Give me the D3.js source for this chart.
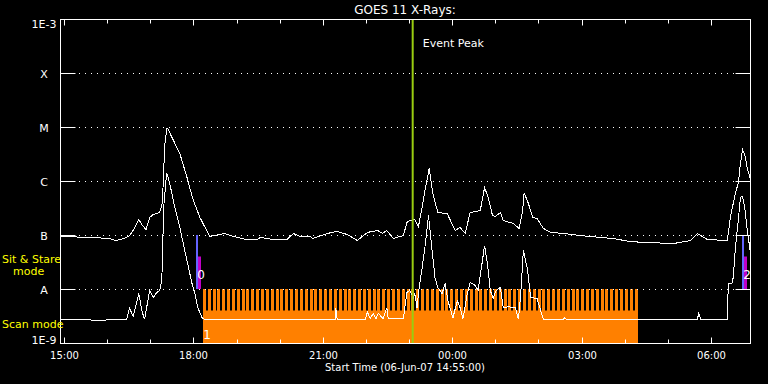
<!DOCTYPE html>
<html>
<head>
<meta charset="utf-8">
<script src="https://cdn.jsdelivr.net/npm/d3@7"></script>
<style>
  body { margin: 0; background: #000; }
  svg { display: block; }
  text { font-family: "DejaVu Sans", sans-serif; }
</style>
</head>
<body>
<div id="chart"></div>
<script>
// GOES 11 long channel (1-8 A), W/m^2
const longChannel = [
    ["14:55", 9.6e-8], ["15:36", 9.2e-8], ["16:04", 8.8e-8], ["16:11", 8.1e-8], ["16:18", 8.4e-8],
    ["16:27", 9.2e-8], ["16:31", 1.0e-7], ["16:36", 1.24e-7], ["16:44", 1.98e-7], ["16:48", 1.6e-7],
    ["16:54", 1.29e-7], ["16:59", 2.15e-7], ["17:04", 2.45e-7], ["17:13", 2.67e-7], ["17:16", 3.6e-7],
    ["17:17", 4.8e-7], ["17:20", 4.6e-6], ["17:23", 9.6e-6], ["17:24", 9.6e-6], ["17:31", 6.2e-6],
    ["17:41", 3.3e-6], ["17:51", 1.19e-6], ["17:59", 4.8e-7], ["18:09", 2.15e-7], ["18:19", 1.19e-7],
    ["18:23", 9.6e-8], ["18:44", 1.09e-7], ["18:51", 1.0e-7], ["19:14", 8.4e-8], ["19:28", 8.4e-8],
    ["19:33", 9.2e-8], ["19:51", 8.4e-8], ["20:10", 8.4e-8], ["20:19", 1.09e-7], ["20:28", 9.6e-8],
    ["20:42", 9.6e-8], ["20:46", 8.8e-8], ["21:06", 1.09e-7], ["21:20", 1.19e-7], ["21:34", 1.04e-7],
    ["21:48", 8.1e-8], ["22:02", 1.14e-7], ["22:16", 1.24e-7], ["22:23", 1.09e-7], ["22:29", 1.24e-7],
    ["22:38", 8.8e-8], ["22:52", 1.0e-7], ["22:57", 1.74e-7], ["23:01", 1.9e-7], ["23:08", 1.98e-7],
    ["23:13", 1.47e-7], ["23:18", 3.2e-7], ["23:22", 6.8e-7], ["23:28", 1.74e-6], ["23:33", 6.0e-7],
    ["23:40", 2.67e-7], ["23:53", 2.55e-7], ["00:04", 1.24e-7], ["00:11", 1.41e-7], ["00:18", 1.09e-7],
    ["00:25", 2.67e-7], ["00:39", 2.9e-7], ["00:45", 7.7e-7], ["00:50", 5.1e-7], ["00:56", 2.35e-7],
    ["01:00", 2.25e-7], ["01:07", 2.67e-7], ["01:11", 1.9e-7], ["01:25", 1.67e-7], ["01:33", 1.35e-7],
    ["01:38", 2.9e-7], ["01:40", 6.2e-7], ["01:46", 3.9e-7], ["01:52", 2.15e-7], ["01:58", 2.06e-7],
    ["02:07", 1.35e-7], ["02:17", 1.14e-7], ["02:35", 1.09e-7], ["02:58", 1.0e-7], ["03:26", 9.2e-8],
    ["03:44", 8.8e-8], ["04:08", 7.7e-8], ["04:32", 7.4e-8], ["05:08", 7.1e-8], ["05:32", 8.1e-8],
    ["05:41", 1.09e-7], ["05:55", 8.4e-8], ["06:23", 8.1e-8], ["06:24", 1.09e-7], ["06:27", 2.15e-7],
    ["06:34", 6.2e-7], ["06:38", 9.2e-7], ["06:41", 2.15e-6], ["06:44", 3.9e-6], ["06:48", 2.8e-6],
    ["06:51", 1.6e-6], ["06:54", 1.29e-6], ["06:55", 9.2e-7]
];

// GOES 11 short channel (0.5-4 A)
const shortChannel = [
    ["14:55", 2.8e-9], ["15:50", 2.7e-9], ["16:27", 2.8e-9], ["16:31", 4.5e-9], ["16:36", 3.2e-9],
    ["16:44", 8.4e-9], ["16:48", 4.1e-9], ["16:52", 2.8e-9], ["16:59", 9.6e-9], ["17:04", 7.1e-9],
    ["17:09", 8.8e-9], ["17:13", 9.6e-9], ["17:16", 1.47e-8], ["17:17", 6.0e-8], ["17:19", 3.9e-7],
    ["17:22", 1.14e-6], ["17:23", 1.41e-6], ["17:27", 9.2e-7], ["17:34", 3.3e-7], ["17:41", 1.41e-7],
    ["17:51", 3.4e-8], ["17:58", 1.29e-8], ["18:02", 8.4e-9], ["18:06", 4.6e-9], ["18:12", 3.0e-9],
    ["18:16", 2.8e-9], ["21:17", 2.8e-9], ["21:18", 4.5e-9], ["21:20", 2.8e-9], ["21:59", 2.8e-9],
    ["22:02", 3.8e-9], ["22:06", 2.9e-9], ["22:10", 3.6e-9], ["22:14", 2.9e-9], ["22:17", 3.6e-9],
    ["22:24", 2.9e-9], ["22:29", 4.6e-9], ["22:31", 2.9e-9], ["22:52", 2.9e-9], ["22:57", 8.8e-9],
    ["23:01", 9.6e-9], ["23:06", 7.1e-9], ["23:08", 8.4e-9], ["23:11", 4.6e-9], ["23:14", 1.09e-8],
    ["23:18", 2.45e-8], ["23:22", 6.0e-8], ["23:27", 2.35e-7], ["23:32", 5.3e-8], ["23:36", 1.67e-8],
    ["23:40", 1.09e-8], ["23:46", 8.4e-9], ["23:50", 1.29e-8], ["23:54", 6.2e-9], ["00:01", 3.0e-9],
    ["00:07", 6.2e-9], ["00:11", 4.6e-9], ["00:15", 2.9e-9], ["00:21", 8.4e-9], ["00:25", 1.35e-8],
    ["00:32", 1.19e-8], ["00:36", 9.6e-9], ["00:42", 3.4e-8], ["00:45", 6.5e-8], ["00:49", 3.0e-8],
    ["00:53", 9.6e-9], ["00:57", 6.8e-9], ["01:01", 9.6e-9], ["01:07", 1.09e-8], ["01:11", 4.6e-9],
    ["01:18", 4.8e-9], ["01:28", 4.6e-9], ["01:32", 2.8e-9], ["01:35", 7.1e-9], ["01:39", 5.3e-8],
    ["01:45", 2.25e-8], ["01:49", 7.1e-9], ["01:58", 6.8e-9], ["02:03", 4.1e-9], ["02:07", 2.8e-9],
    ["02:35", 2.8e-9], ["02:36", 3.0e-9], ["02:39", 2.8e-9], ["05:41", 2.8e-9], ["05:43", 3.6e-9],
    ["05:46", 2.8e-9], ["06:23", 2.8e-9], ["06:24", 1.29e-8], ["06:29", 1.29e-8], ["06:31", 1.67e-8],
    ["06:34", 6.0e-8], ["06:38", 1.9e-7], ["06:41", 5.1e-7], ["06:44", 5.3e-7], ["06:47", 3.3e-7],
    ["06:50", 1.41e-7], ["06:52", 9.2e-8], ["06:55", 4.6e-8]
];

// flare class levels on the y axis
const levelValues = [1e-9, 1e-8, 1e-7, 1e-6, 1e-5, 1e-4, 1e-3];
const levelLabels = ["1E-9", "A", "B", "C", "M", "X", "1E-3"];

// observing modes
const sitStareTimes = ["18:05", "06:44"];
const sitStareLabels = ["0", "2"];
const scanStart = "18:13";
const scanEnd = "04:19";
const scanLabel = "1";
const rasterMinutes = 6.75;

const eventPeak = "23:05";
const startTime = "14:55";
const endTime = "06:55";

// times are on 06-Jun-07, anything before noon rolls over to 07-Jun
const day0 = Date.UTC(2007, 5, 6);
function toTime(s) {
    const [h, m] = s.split(":").map(Number);
    return new Date(day0 + ((h < 12 ? h + 24 : h) * 60 + m) * 60000);
}

const width = 768, height = 384;
const plot = { left: 60.5, right: 750.5, top: 19.5, bottom: 343.5 };

const svg = d3.select("#chart").append("svg")
    .attr("width", width)
    .attr("height", height);

svg.append("rect").attr("width", width).attr("height", height).attr("fill", "#000");

const x = d3.scaleUtc()
    .domain([toTime(startTime), toTime(endTime)])
    .range([plot.left, plot.right]);

const y = d3.scaleLog()
    .domain([1e-9, 1e-3])
    .range([plot.bottom, plot.top]);

// Scan mode band: solid base with one tooth per raster
const scanG = svg.append("g").attr("fill", "#ff8000");
const baseTop = y(1e-8) + 21;
const scanX0 = Math.round(x(toTime(scanStart)));
const scanX1 = Math.round(x(toTime(scanEnd)));
scanG.append("rect")
    .attr("x", scanX0)
    .attr("y", baseTop)
    .attr("width", scanX1 - scanX0)
    .attr("height", plot.bottom - baseTop);

const rasterMs = rasterMinutes * 60000;
const rasters = d3.range(+toTime(scanStart), +toTime(scanEnd), rasterMs);
scanG.selectAll("rect.tooth")
    .data(rasters)
    .join("rect")
    .attr("class", "tooth")
    .attr("x", d => Math.round(x(new Date(d))))
    .attr("y", y(1e-8) - 0.5)
    .attr("width", d => Math.min(3, scanX1 - Math.round(x(new Date(d)))))
    .attr("height", baseTop - y(1e-8) + 1);

// Sit & stare markers
sitStareTimes.forEach(t => {
    const xt = Math.round(x(toTime(t)));
    svg.append("rect")
        .attr("x", xt - 1).attr("y", y(1e-7) - 0.5)
        .attr("width", 2).attr("height", y(1e-8) - y(1e-7))
        .attr("fill", "#6464ff");
    svg.append("rect")
        .attr("x", xt + 1).attr("y", y(1e-7) + 21)
        .attr("width", 3).attr("height", y(1e-8) - y(1e-7) - 21.5)
        .attr("fill", "#c000c8");
});

// dotted grid at class levels
svg.append("g")
    .selectAll("line")
    .data(levelValues.slice(1, -1))
    .join("line")
    .attr("x1", plot.left + 18.5).attr("x2", plot.right - 14.5)
    .attr("y1", d => y(d)).attr("y2", d => y(d))
    .attr("stroke", "#fff")
    .attr("stroke-dasharray", "1,5");

// flux curves
const line = d3.line()
    .x(d => x(toTime(d[0])))
    .y(d => y(d[1]));

[longChannel, shortChannel].forEach(series => {
    svg.append("path")
        .datum(series)
        .attr("d", line)
        .attr("fill", "none")
        .attr("stroke", "#fff")
        .attr("stroke-width", 1)
        .style("shape-rendering", "crispEdges");
});

// Event peak marker
const xp = x(toTime(eventPeak));
svg.append("line")
    .attr("x1", xp).attr("x2", xp)
    .attr("y1", plot.top).attr("y2", plot.bottom)
    .attr("stroke", "#99cc11")
    .attr("stroke-width", 2);
svg.append("text")
    .attr("x", xp + 10).attr("y", 47)
    .attr("fill", "#fff")
    .style("font-size", "11px")
    .text("Event Peak");

// mode numbers
sitStareTimes.forEach((t, i) => {
    svg.append("text")
        .attr("x", Math.round(x(toTime(t))) + 4)
        .attr("y", y(1e-8) - 11)
        .attr("text-anchor", "middle")
        .attr("fill", "#fff")
        .style("font-size", "12px")
        .text(sitStareLabels[i]);
});
svg.append("text")
    .attr("x", scanX0 + 4)
    .attr("y", plot.bottom - 5)
    .attr("text-anchor", "middle")
    .attr("fill", "#fff")
    .style("font-size", "12px")
    .text(scanLabel);

// frame
svg.append("rect")
    .attr("x", plot.left).attr("y", plot.top)
    .attr("width", plot.right - plot.left).attr("height", plot.bottom - plot.top)
    .attr("fill", "none")
    .attr("stroke", "#fff");

// y ticks (both sides) and labels
const yG = svg.append("g").attr("stroke", "#fff");
levelValues.forEach(v => {
    yG.append("line").attr("x1", plot.left).attr("x2", plot.left + 15).attr("y1", y(v)).attr("y2", y(v));
    yG.append("line").attr("x1", plot.right - 15).attr("x2", plot.right).attr("y1", y(v)).attr("y2", y(v));
});
svg.append("g")
    .selectAll("text")
    .data(levelValues)
    .join("text")
    .attr("x", 44)
    .attr("y", d => y(d))
    .attr("dy", (d, i) => i === 0 ? "0" : i === levelValues.length - 1 ? "0.75em" : "0.42em")
    .attr("text-anchor", "middle")
    .attr("fill", "#fff")
    .style("font-size", "11px")
    .text((d, i) => levelLabels[i]);

// x ticks on top and bottom, hourly, longer every 3 h
const hours = d3.utcHour.range(toTime("15:00"), toTime(endTime));
const xG = svg.append("g").attr("stroke", "#fff");
hours.forEach(h => {
    const len = h.getUTCHours() % 3 === 0 ? 6 : 4;
    const xh = Math.round(x(h)) + 0.5;
    xG.append("line").attr("x1", xh).attr("x2", xh).attr("y1", plot.top).attr("y2", plot.top + len);
    xG.append("line").attr("x1", xh).attr("x2", xh).attr("y1", plot.bottom).attr("y2", plot.bottom - len);
});
svg.append("g")
    .selectAll("text")
    .data(hours.filter(h => h.getUTCHours() % 3 === 0))
    .join("text")
    .attr("x", d => Math.round(x(d)) + 0.5)
    .attr("y", 359)
    .attr("text-anchor", "middle")
    .attr("fill", "#fff")
    .style("font-size", "10px")
    .text(d3.utcFormat("%H:%M"));

// titles
svg.append("text")
    .attr("x", 405).attr("y", 14)
    .attr("text-anchor", "middle")
    .attr("fill", "#fff")
    .style("font-size", "12px")
    .text("GOES 11 X-Rays:");

svg.append("text")
    .attr("x", 405).attr("y", 371)
    .attr("text-anchor", "middle")
    .attr("fill", "#fff")
    .style("font-size", "10px")
    .text("Start Time (06-Jun-07 14:55:00)");

// mode labels on the left
const yellow = "#ffff00";
svg.append("text").attr("x", 2).attr("y", 263).attr("fill", yellow).style("font-size", "11px").text("Sit & Stare");
svg.append("text").attr("x", 13).attr("y", 275).attr("fill", yellow).style("font-size", "11px").text("mode");
svg.append("text").attr("x", 2).attr("y", 328).attr("fill", yellow).style("font-size", "11px").text("Scan mode");
</script>
</body>
</html>
